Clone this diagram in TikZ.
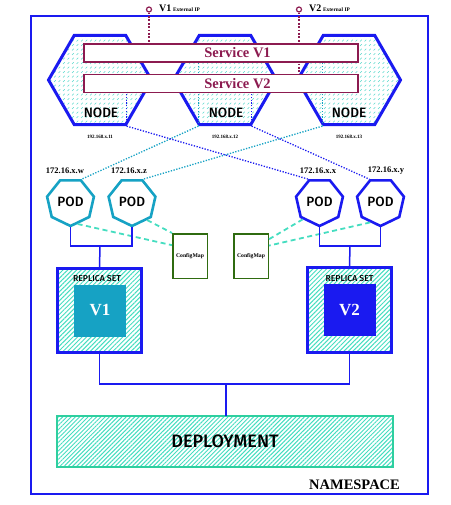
\documentclass[tikz,border=0pt]{standalone}
\usepackage{fontspec}
\setmainfont{Liberation Serif}
\setsansfont{Fira Sans Medium}
\usepackage{tikz}
\usetikzlibrary{shapes.geometric,patterns.meta,positioning,calc}
\definecolor{NsBlue}{HTML}{1A1AF0}
\definecolor{PodCyan}{HTML}{16A2C4}
\definecolor{SvcRed}{HTML}{8C1B50}
\definecolor{HatchTeal}{HTML}{45DDC0}
\definecolor{DashTeal}{HTML}{5AD8CC}
\definecolor{DepGreen}{HTML}{2ECF9F}
\definecolor{CmGreen}{HTML}{2F6B10}
\tikzdeclarepattern{
  name=nodedash,
  type=uncolored,
  bottom left={(-0.5pt,-0.5pt)},
  top right={(5pt,5pt)},
  tile size={(4.5pt,4.5pt)},
  code={\draw[line width=0.5pt] (0pt,0pt) -- (1.8pt,1.8pt);}
}

\begin{document}
\begin{tikzpicture}[x=1pt, y=-1pt,
  nsbox/.style={draw=NsBlue, line width=2pt, minimum width=397pt,
                minimum height=478pt, inner sep=0pt},
  hexnode/.style={regular polygon, regular polygon sides=6, minimum size=103pt,
                  inner sep=0pt, draw=NsBlue, line width=3pt,
                  pattern=nodedash, pattern color=DashTeal},
  svc/.style={draw=SvcRed, line width=1.8pt, fill=white, minimum width=274pt,
              minimum height=18pt, inner sep=0pt},
  svctxt/.style={text=SvcRed, inner sep=0pt,
                 font=\bfseries\fontsize{14.5}{15}\selectfont},
  extip/.style={circle, draw=SvcRed, line width=1.2pt, fill=white,
                minimum size=5pt, inner sep=0pt},
  ipline/.style={SvcRed, line width=1.8pt, dash pattern=on 1.8pt off 1.6pt},
  pod/.style={regular polygon, regular polygon sides=7, shape border rotate=180,
              minimum size=48pt, inner sep=0pt, line width=2.6pt, fill=white,
              font=\sffamily\fontsize{13.5}{14}\selectfont},
  podone/.style={pod, draw=PodCyan},
  podtwo/.style={pod, draw=NsBlue},
  link/.style={line width=1.3pt, dash pattern=on 1.3pt off 1.5pt},
  wire/.style={NsBlue, line width=1.5pt},
  cfg/.style={draw=CmGreen, line width=1.5pt, fill=white, minimum width=34.5pt,
              minimum height=44.5pt, inner sep=0pt,
              font=\bfseries\fontsize{5.7}{6}\selectfont},
  cfgline/.style={HatchTeal, line width=1.8pt, dash pattern=on 5pt off 3.5pt},
  rset/.style={draw=NsBlue, line width=2.6pt, minimum size=84.5pt, inner sep=0pt,
               pattern={Lines[angle=45,distance=3.2pt,line width=1pt]},
               pattern color=HatchTeal},
  ver/.style={minimum size=52pt, inner sep=0pt, text=white,
              font=\bfseries\fontsize{17}{18}\selectfont},
  depbox/.style={draw=DepGreen, line width=2pt, minimum width=336pt,
                 minimum height=51pt, inner sep=0pt,
                 pattern={Lines[angle=45,distance=3pt,line width=1pt]},
                 pattern color=HatchTeal,
                 font=\sffamily\fontsize{18}{19}\selectfont},
  iplbl/.style={font=\bfseries\fontsize{5}{6}\selectfont, inner sep=0pt},
  podip/.style={font=\bfseries\fontsize{8.5}{9}\selectfont, inner sep=0pt},
  lbl/.style={font=\sffamily\fontsize{13.5}{14}\selectfont, inner sep=0pt},
  rslbl/.style={font=\sffamily\fontsize{8.6}{9}\selectfont, inner sep=0pt},
]
\useasboundingbox (0,0) rectangle (450,505);

%% ---- namespace ----
\node[nsbox] (ns) at (229.5,255) {};
\node[font=\bfseries\fontsize{14.5}{15}\selectfont, inner sep=0pt] (nslbl)
  at (354.5,485) {NAMESPACE};

%% ---- cluster nodes ----
\foreach \i/\x in {1/100,2/225,3/349} \node[hexnode] (hex\i) at (\x,80) {};
\foreach \i/\x in {1/101,2/226,3/349} \node[lbl] (nl\i) at (\x,113) {NODE};
\node[iplbl, below=9pt of hex1] (hip1) {192.168.x.11};
\node[iplbl, below=9pt of hex2] (hip2) {192.168.x.12};
\node[iplbl, below=9pt of hex3] (hip3) {192.168.x.13};

%% ---- external ips ----
\node[extip] (ip1) at (149,9.5) {};
\node[extip] (ip2) at (299,9.5) {};
\node[anchor=west, inner sep=0pt, font=\bfseries] (ipl1) at (159,8.5)
  {{\fontsize{10}{10}\selectfont V1}\,{\fontsize{5.4}{6}\selectfont External IP}};
\node[anchor=west, inner sep=0pt, font=\bfseries] (ipl2) at (309,8.5)
  {{\fontsize{10}{10}\selectfont V2}\,{\fontsize{5.4}{6}\selectfont External IP}};

%% ---- services (lines first, boxes on top) ----
\coordinate (sv1b) at (221,63);
\coordinate (sv2b) at (221,93);
\draw[ipline] (ip1) -- (ip1 |- 0,43);
\draw[ipline] (ip2) -- (ip2 |- 0,74);
\draw[link, PodCyan] (hex2.-120) -- (hex2.-120 |- sv1b);
\draw[link, PodCyan] (hex3.-120) -- (hex3.-120 |- sv1b);
\draw[link, NsBlue] (hex1.-60) -- (hex1.-60 |- sv2b);
\draw[link, NsBlue] (hex2.-60) -- (hex2.-60 |- sv2b);
\node[svc] (sv1) at (221,53) {};
\node[svc] (sv2) at (221,83.5) {};
\node[svctxt] (st1) at (237.5,53) {Service V1};
\node[svctxt] (st2) at (237.5,83.5) {Service V2};

%% ---- pods ----
\node[podone] (podw) at (70.5,202) {POD};
\node[podone] (podz) at (132,202) {POD};
\node[podtwo] (podx) at (319.5,202) {POD};
\node[podtwo] (pody) at (380.5,202) {POD};
\node[podip] (ipw) at (65,171) {172.16.x.w};
\node[podip] (ipz) at (129,171) {172.16.x.z};
\node[podip] (ipx) at (318,171) {172.16.x.x};
\node[podip] (ipy) at (386,171) {172.16.x.y};

\draw[link, PodCyan] (hex2.-120) -- (podw.64);
\draw[link, PodCyan] (hex3.-120) -- (podz.64);
\draw[link, NsBlue] (hex1.-60) -- (podx.116);
\draw[link, NsBlue] (hex2.-60) -- (pody.116);

%% ---- config maps ----
\node[cfg] (cm1) at (190,256) {ConfigMap};
\node[cfg] (cm2) at (251,256) {ConfigMap};
\draw[cfgline] (podw.-72) -- (cm1.149);
\draw[cfgline] (podz.-50) -- (cm1.north west);
\draw[cfgline] (podx.-134) -- (cm2.43);
\draw[cfgline] (pody.-117) -- (cm2.30);

%% ---- replica sets ----
\node[rset] (rs1) at (99.5,310.5) {};
\node[rset] (rs2) at (349.5,310) {};
\node[rslbl] (rl1) at (97,279) {REPLICA SET};
\node[rslbl] (rl2) at (349.5,279) {REPLICA SET};
\node[ver, fill=PodCyan] (v1) at (100,310.5) {V1};
\node[ver, fill=NsBlue] (v2) at (349.5,310) {V2};

\coordinate (j1) at (100,246);
\coordinate (j2) at (350,246);
\draw[wire] (podw.south) |- (j1) -| (podz.south);
\draw[wire] (j1) -- (rs1.north);
\draw[wire] (podx.south) |- (j2) -| (pody.south);
\draw[wire] (j2) -- (rs2.north);

%% ---- deployment ----
\node[depbox] (dep) at (225,441.5) {DEPLOYMENT};
\coordinate (j3) at (226,384);
\draw[wire] (rs1.south) |- (j3) -| (rs2.south);
\draw[wire] (j3) -- (dep.north -| j3);
\end{tikzpicture}
\end{document}
